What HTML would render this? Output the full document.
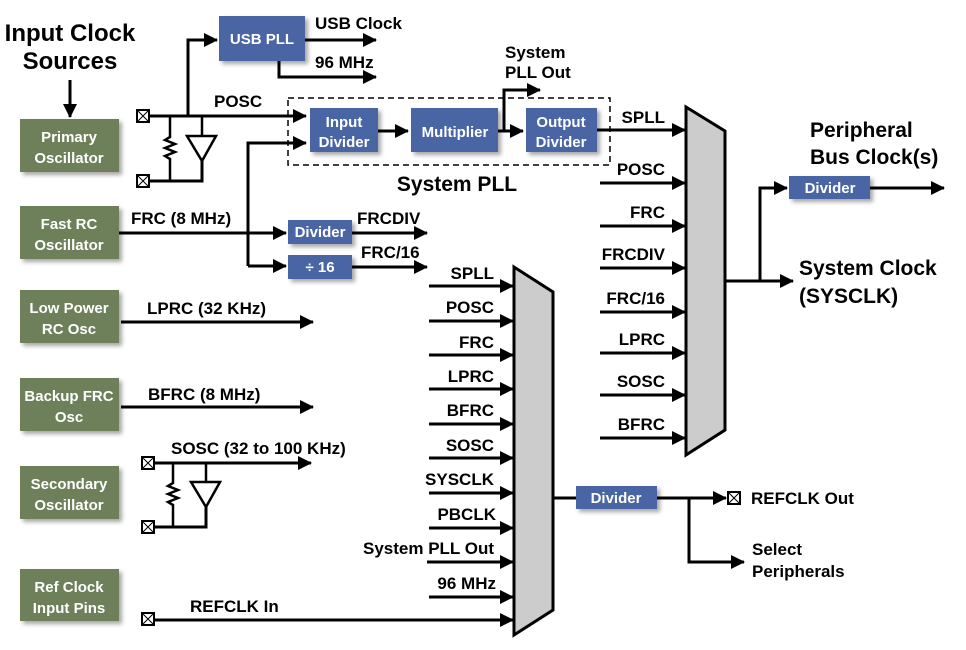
<!DOCTYPE html>
<html><head><meta charset="utf-8"><style>
body{margin:0;background:#fff}
svg{display:block;font-family:"Liberation Sans",Arial,sans-serif;font-weight:bold}
.g{fill:#6e805a}
.b{fill:#4a65a3}
.gt{fill:#fff;font-size:15px;text-anchor:middle}
.bt{fill:#fff;font-size:15px;text-anchor:middle}
.l{font-size:17px;fill:#000}
.r{text-anchor:end}
line,polyline,path{stroke:#000;stroke-width:3;fill:none}
</style></head><body>
<svg width="966" height="650" viewBox="0 0 966 650">
<defs>
<marker id="A" markerWidth="14" markerHeight="14" refX="13" refY="7" orient="auto" markerUnits="userSpaceOnUse" viewBox="0 0 14 14"><path d="M0,0 L14,7 L0,14 Z" style="fill:#000;stroke:none"/></marker>
<filter id="s" x="-10%" y="-10%" width="130%" height="140%"><feDropShadow dx="3" dy="3" stdDeviation="2" flood-color="#000" flood-opacity="0.35"/></filter>
</defs>

<text x="70" y="41" style="font-size:24px" text-anchor="middle">Input Clock</text>
<text x="70" y="69" style="font-size:24px" text-anchor="middle">Sources</text>
<line x1="70" y1="80" x2="70" y2="117" marker-end="url(#A)"/>

<g filter="url(#s)">
<rect class="g" x="20" y="119" width="99" height="53"/>
<rect class="g" x="20" y="206" width="99" height="53"/>
<rect class="g" x="20" y="290" width="99" height="53"/>
<rect class="g" x="20" y="378" width="99" height="53"/>
<rect class="g" x="20" y="466" width="99" height="53"/>
<rect class="g" x="20" y="569" width="99" height="52"/>
</g>
<text class="gt" x="69" y="142">Primary</text><text class="gt" x="69" y="163">Oscillator</text>
<text class="gt" x="69" y="229">Fast RC</text><text class="gt" x="69" y="250">Oscillator</text>
<text class="gt" x="69" y="313">Low Power</text><text class="gt" x="69" y="334">RC Osc</text>
<text class="gt" x="69" y="401">Backup FRC</text><text class="gt" x="69" y="422">Osc</text>
<text class="gt" x="69" y="489">Secondary</text><text class="gt" x="69" y="510">Oscillator</text>
<text class="gt" x="69" y="592">Ref Clock</text><text class="gt" x="69" y="613">Input Pins</text>

<g filter="url(#s)">
<rect class="b" x="219" y="16" width="86" height="45"/>
<rect class="b" x="310" y="108" width="68" height="44"/>
<rect class="b" x="411" y="108" width="87" height="44"/>
<rect class="b" x="526" y="108" width="71" height="44"/>
<rect class="b" x="288" y="220" width="64" height="24"/>
<rect class="b" x="288" y="255" width="64" height="24"/>
<rect class="b" x="789" y="176" width="81" height="23"/>
<rect class="b" x="576" y="486" width="81" height="23"/>
</g>
<text class="bt" x="262" y="44">USB PLL</text>
<text class="bt" x="344" y="127">Input</text><text class="bt" x="344" y="147">Divider</text>
<text class="bt" x="455" y="137">Multiplier</text>
<text class="bt" x="561" y="127">Output</text><text class="bt" x="561" y="147">Divider</text>
<text class="bt" x="320" y="237">Divider</text>
<text class="bt" x="320" y="272">÷ 16</text>
<text class="bt" x="830" y="193">Divider</text>
<text class="bt" x="616" y="503">Divider</text>

<rect x="288" y="98" width="322" height="67" style="fill:none;stroke:#000;stroke-width:1.5;stroke-dasharray:6,4"/>
<text x="457" y="191" style="font-size:21px" text-anchor="middle">System PLL</text>

<rect x="137" y="110" width="12" height="12" style="fill:#fff;stroke:#000;stroke-width:2"/>
<rect x="137" y="175" width="12" height="12" style="fill:#fff;stroke:#000;stroke-width:2"/>
<path d="M137,110 L149,122 M149,110 L137,122 M137,175 L149,187 M149,175 L137,187" style="stroke-width:1"/>
<line x1="149" y1="116" x2="306" y2="116" marker-end="url(#A)"/>
<polyline points="149,181 202,181 202,160"/>
<polyline points="170,116 170,137 165,140 175,144 165,148 175,152 165,156 170,159 170,181" style="stroke-width:2.5"/>
<line x1="202" y1="116" x2="202" y2="136" style="stroke-width:2.5"/>
<path d="M187,136 L216,136 L202,161 Z" style="stroke-width:2.5"/>
<text class="l" x="214" y="107">POSC</text>
<polyline points="188,116 188,40 217,40" marker-end="url(#A)"/>
<line x1="305" y1="40" x2="376" y2="40" marker-end="url(#A)"/>
<polyline points="279,61 279,77 376,77" marker-end="url(#A)"/>
<text class="l" x="315" y="29">USB Clock</text>
<text class="l" x="315" y="68">96 MHz</text>

<polyline points="248,266 248,143 306,143" marker-end="url(#A)"/>
<line x1="378" y1="131" x2="408" y2="131" marker-end="url(#A)"/>
<line x1="498" y1="131" x2="523" y2="131" marker-end="url(#A)"/>
<polyline points="504,131 504,90 540,90" marker-end="url(#A)"/>
<text class="l" x="505" y="58">System</text>
<text class="l" x="505" y="78">PLL Out</text>

<text class="l" x="131" y="224">FRC (8 MHz)</text>
<line x1="119" y1="233" x2="286" y2="233" marker-end="url(#A)"/>
<line x1="248" y1="266" x2="286" y2="266" marker-end="url(#A)"/>
<line x1="352" y1="233" x2="427" y2="233" marker-end="url(#A)"/>
<line x1="352" y1="267" x2="427" y2="267" marker-end="url(#A)"/>
<text class="l" x="357" y="224">FRCDIV</text>
<text class="l" x="361" y="258">FRC/16</text>

<text class="l" x="147" y="314">LPRC (32 KHz)</text>
<line x1="121" y1="322" x2="313" y2="322" marker-end="url(#A)"/>
<text class="l" x="148" y="400">BFRC (8 MHz)</text>
<line x1="121" y1="407" x2="313" y2="407" marker-end="url(#A)"/>

<rect x="142" y="457" width="12" height="12" style="fill:#fff;stroke:#000;stroke-width:2"/>
<rect x="142" y="521" width="12" height="12" style="fill:#fff;stroke:#000;stroke-width:2"/>
<path d="M142,457 L154,469 M154,457 L142,469 M142,521 L154,533 M154,521 L142,533" style="stroke-width:1"/>
<line x1="154" y1="463" x2="311" y2="463" marker-end="url(#A)"/>
<polyline points="154,527 206,527 206,506"/>
<polyline points="173,463 173,483 168,486 178,490 168,494 178,498 168,502 173,505 173,527" style="stroke-width:2.5"/>
<line x1="206" y1="463" x2="206" y2="482" style="stroke-width:2.5"/>
<path d="M191,482 L220,482 L206,507 Z" style="stroke-width:2.5"/>
<text class="l" x="171" y="454">SOSC (32 to 100 KHz)</text>

<rect x="142" y="613" width="12" height="12" style="fill:#fff;stroke:#000;stroke-width:2"/>
<path d="M142,613 L154,625 M154,613 L142,625" style="stroke-width:1"/>
<line x1="154" y1="620" x2="513" y2="620" marker-end="url(#A)"/>
<text class="l" x="190" y="612">REFCLK In</text>

<path d="M686,107 L725,131 L725,430 L686,455 Z" style="fill:#cccccc;stroke:#000;stroke-width:3"/>
<g>
<line x1="597" y1="130" x2="685" y2="130" marker-end="url(#A)"/>
<line x1="600" y1="183" x2="685" y2="183" marker-end="url(#A)"/>
<line x1="600" y1="226" x2="685" y2="226" marker-end="url(#A)"/>
<line x1="600" y1="268" x2="685" y2="268" marker-end="url(#A)"/>
<line x1="600" y1="312" x2="685" y2="312" marker-end="url(#A)"/>
<line x1="600" y1="353" x2="685" y2="353" marker-end="url(#A)"/>
<line x1="600" y1="395" x2="685" y2="395" marker-end="url(#A)"/>
<line x1="600" y1="438" x2="685" y2="438" marker-end="url(#A)"/>
</g>
<g class="l">
<text class="r" x="665" y="123">SPLL</text>
<text class="r" x="665" y="175">POSC</text>
<text class="r" x="665" y="218">FRC</text>
<text class="r" x="665" y="260">FRCDIV</text>
<text class="r" x="665" y="304">FRC/16</text>
<text class="r" x="665" y="345">LPRC</text>
<text class="r" x="665" y="387">SOSC</text>
<text class="r" x="665" y="430">BFRC</text>
</g>
<line x1="725" y1="281" x2="793" y2="281" marker-end="url(#A)"/>
<polyline points="760,281 760,188 787,188" marker-end="url(#A)"/>
<line x1="870" y1="188" x2="944" y2="188" marker-end="url(#A)"/>
<text x="810" y="137" style="font-size:21px">Peripheral</text>
<text x="810" y="164" style="font-size:21px">Bus Clock(s)</text>
<text x="799" y="275" style="font-size:21px">System Clock</text>
<text x="799" y="303" style="font-size:21px">(SYSCLK)</text>

<path d="M514,267 L553,292 L553,610 L514,635 Z" style="fill:#cccccc;stroke:#000;stroke-width:3"/>
<g>
<line x1="429" y1="286" x2="513" y2="286" marker-end="url(#A)"/>
<line x1="429" y1="321" x2="513" y2="321" marker-end="url(#A)"/>
<line x1="429" y1="355" x2="513" y2="355" marker-end="url(#A)"/>
<line x1="429" y1="389" x2="513" y2="389" marker-end="url(#A)"/>
<line x1="429" y1="424" x2="513" y2="424" marker-end="url(#A)"/>
<line x1="429" y1="458" x2="513" y2="458" marker-end="url(#A)"/>
<line x1="429" y1="493" x2="513" y2="493" marker-end="url(#A)"/>
<line x1="429" y1="528" x2="513" y2="528" marker-end="url(#A)"/>
<line x1="427" y1="562" x2="513" y2="562" marker-end="url(#A)"/>
<line x1="429" y1="597" x2="513" y2="597" marker-end="url(#A)"/>
</g>
<g class="l">
<text class="r" x="494" y="279">SPLL</text>
<text class="r" x="494" y="313">POSC</text>
<text class="r" x="494" y="348">FRC</text>
<text class="r" x="494" y="382">LPRC</text>
<text class="r" x="494" y="416">BFRC</text>
<text class="r" x="494" y="451">SOSC</text>
<text class="r" x="494" y="485">SYSCLK</text>
<text class="r" x="496" y="520">PBCLK</text>
<text class="r" x="494" y="554">System PLL Out</text>
<text class="r" x="496" y="589">96 MHz</text>
</g>
<line x1="553" y1="498" x2="576" y2="498"/>
<line x1="657" y1="498" x2="726" y2="498" marker-end="url(#A)"/>
<rect x="728" y="492" width="12" height="12" style="fill:#fff;stroke:#000;stroke-width:2"/>
<path d="M728,492 L740,504 M740,492 L728,504" style="stroke-width:1"/>
<polyline points="689,498 689,562 744,562" marker-end="url(#A)"/>
<text class="l" x="751" y="504">REFCLK Out</text>
<text class="l" x="752" y="555">Select</text>
<text class="l" x="752" y="577">Peripherals</text>
</svg>
</body></html>
